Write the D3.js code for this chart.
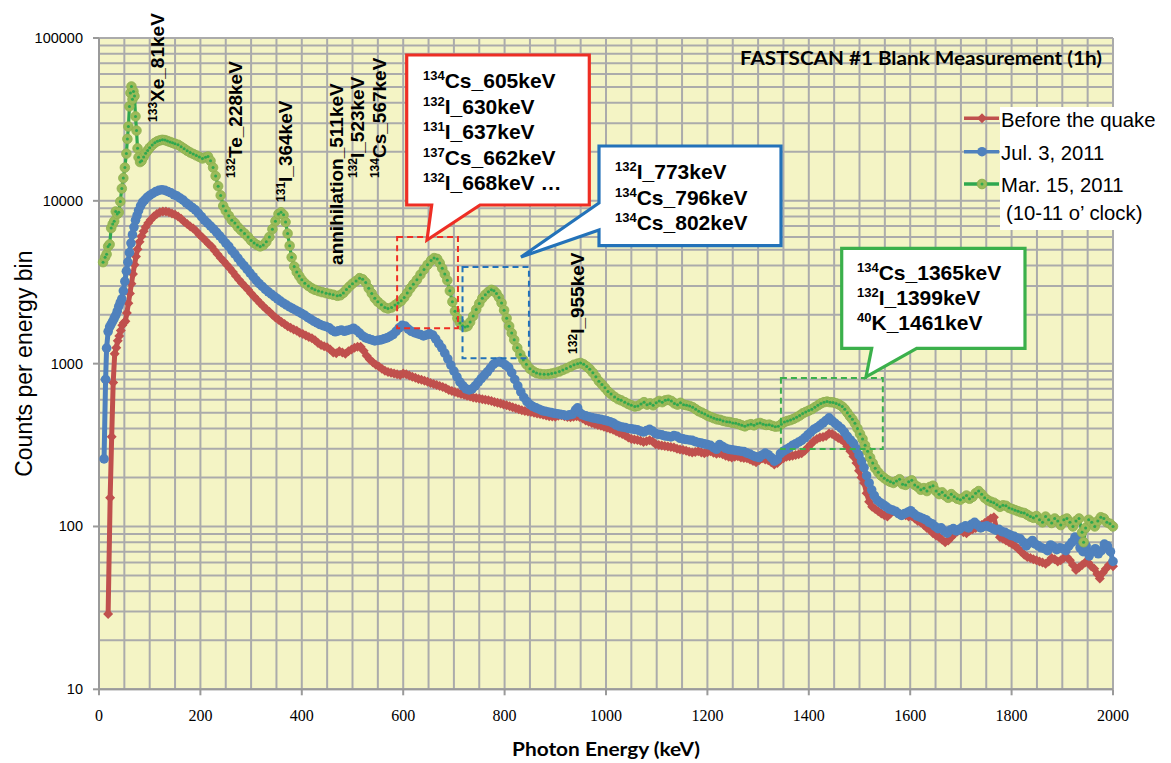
<!DOCTYPE html>
<html><head><meta charset="utf-8">
<script src="https://cdn.jsdelivr.net/npm/d3@7"></script>
<style>body{margin:0;background:#fff}svg{display:block}</style>
</head><body><svg id="c" width="1171" height="763"></svg>
<script>
// ---------------- DATA ----------------
const beforeQuake = [[18,29],[22,150],[25,356],[28,765],[31,1150],[34,1250],[37,1380],[40,1480],[43,1600],[46,1720],[49,1780],[52,1820],[55,2050],[58,2350],[61,2700],[64,3100],[67,3550],[70,4050],[73,4550],[76,5050],[80,5600],[84,6050],[88,6500],[92,6900],[97,7300],[102,7650],[108,8000],[114,8300],[120,8500],[126,8600],[132,8600],[138,8500],[144,8350],[150,8200],[156,8000],[162,7750],[168,7450],[174,7200],[180,6950],[186,6750],[192,6500],[198,6200],[204,5950],[210,5700],[216,5450],[222,5250],[228,4950],[234,4700],[240,4450],[246,4250],[252,4050],[258,3850],[264,3650],[270,3450],[276,3280],[282,3120],[288,2980],[294,2840],[300,2700],[306,2580],[312,2460],[318,2350],[324,2250],[330,2160],[336,2080],[342,2000],[348,1920],[354,1860],[360,1800],[366,1750],[372,1700],[378,1660],[384,1620],[390,1590],[396,1550],[402,1520],[408,1490],[414,1460],[420,1430],[426,1390],[432,1340],[438,1300],[444,1280],[450,1260],[456,1220],[462,1170],[468,1160],[474,1190],[480,1170],[486,1150],[492,1190],[498,1220],[504,1250],[510,1270],[516,1270],[522,1200],[528,1120],[534,1060],[540,1020],[546,985],[552,960],[558,930],[564,905],[570,890],[576,880],[582,870],[588,860],[594,853],[600,870],[606,860],[612,845],[618,830],[624,820],[630,805],[636,795],[642,785],[648,775],[654,760],[660,750],[666,740],[672,730],[678,720],[684,705],[690,690],[696,680],[702,670],[708,660],[714,650],[720,645],[726,635],[732,628],[738,620],[744,615],[750,610],[756,605],[762,600],[768,595],[774,590],[780,582],[786,575],[792,570],[798,562],[804,555],[810,548],[816,540],[822,532],[828,525],[834,518],[840,512],[846,508],[852,504],[858,500],[864,495],[870,490],[876,485],[882,480],[888,476],[894,473],[900,472],[906,478],[912,482],[918,476],[924,470],[930,468],[936,472],[942,476],[948,470],[954,460],[960,448],[966,440],[972,432],[978,426],[984,420],[990,415],[996,410],[1002,404],[1008,398],[1014,392],[1020,385],[1026,376],[1032,370],[1038,362],[1044,352],[1050,345],[1056,342],[1062,340],[1068,336],[1074,330],[1080,334],[1086,338],[1092,332],[1098,320],[1104,316],[1110,314],[1116,312],[1122,310],[1128,308],[1134,305],[1140,300],[1146,297],[1152,295],[1158,292],[1164,288],[1170,285],[1176,287],[1182,290],[1188,285],[1194,282],[1200,286],[1206,290],[1212,284],[1218,280],[1224,282],[1230,278],[1236,272],[1242,268],[1248,265],[1254,268],[1260,270],[1266,265],[1272,263],[1278,262],[1284,258],[1290,252],[1296,248],[1302,255],[1308,262],[1314,258],[1320,255],[1326,248],[1332,240],[1338,245],[1344,256],[1350,262],[1356,268],[1362,270],[1368,272],[1374,275],[1380,278],[1386,282],[1392,292],[1398,305],[1404,320],[1410,335],[1416,345],[1422,352],[1428,355],[1434,360],[1440,372],[1446,370],[1452,360],[1458,350],[1464,342],[1470,330],[1476,310],[1482,290],[1488,269],[1494,245],[1499,220],[1504,200],[1509,185],[1514,160],[1519,142],[1525,132],[1531,128],[1537,124],[1543,120],[1549,117],[1555,115],[1561,120],[1567,125],[1573,122],[1579,119],[1585,118],[1591,117],[1597,115],[1603,116],[1609,112],[1615,108],[1621,106],[1627,102],[1633,98],[1639,95],[1645,91],[1651,88],[1657,86],[1663,83],[1669,80],[1675,82],[1681,86],[1687,90],[1693,93],[1699,95],[1705,92],[1711,91],[1717,94],[1723,96],[1729,98],[1735,100],[1741,102],[1747,105],[1753,108],[1759,112],[1765,114],[1771,95],[1777,86],[1783,84],[1789,82],[1795,80],[1801,78],[1807,76],[1813,73],[1819,70],[1825,67],[1831,65],[1837,64],[1843,63],[1849,62],[1855,61],[1861,60],[1867,59],[1873,61],[1879,64],[1885,63],[1891,61],[1897,62],[1903,64],[1909,65],[1915,62],[1921,58],[1927,54],[1933,56],[1939,58],[1945,60],[1951,60],[1957,57],[1963,55],[1969,51],[1974,48],[1980,52],[1986,55],[1992,58],[2000,57]];

const jul3 = [[10,260],[13,800],[15,1245],[18,1575],[21,1680],[24,1750],[27,1820],[30,1900],[33,1980],[36,2100],[39,2250],[42,2380],[45,2500],[48,2800],[51,3200],[54,3700],[57,4200],[60,4800],[63,5500],[66,6200],[69,6900],[72,7600],[75,8100],[78,8700],[82,9300],[86,9800],[90,10100],[95,10500],[100,10800],[106,11100],[112,11400],[118,11600],[124,11700],[130,11600],[136,11400],[142,11200],[148,10900],[154,10700],[160,10400],[166,10100],[172,9700],[178,9400],[184,9100],[190,8800],[196,8400],[202,8000],[208,7600],[214,7300],[220,7000],[226,6700],[232,6400],[238,6100],[244,5800],[250,5500],[256,5250],[262,4950],[268,4700],[274,4450],[280,4200],[286,4000],[292,3800],[298,3600],[304,3420],[310,3250],[316,3100],[322,2980],[328,2860],[334,2760],[340,2670],[346,2580],[352,2500],[358,2420],[364,2350],[370,2290],[376,2230],[382,2180],[388,2130],[394,2080],[400,2030],[406,1980],[412,1920],[418,1870],[424,1820],[430,1780],[436,1740],[442,1710],[448,1690],[454,1660],[460,1600],[466,1570],[472,1590],[478,1610],[484,1580],[490,1600],[496,1620],[502,1650],[508,1600],[514,1540],[520,1480],[526,1440],[532,1420],[538,1400],[544,1380],[550,1390],[556,1400],[562,1420],[568,1440],[574,1470],[580,1510],[586,1580],[592,1660],[598,1720],[604,1700],[610,1630],[616,1580],[622,1550],[628,1530],[634,1510],[640,1480],[646,1500],[652,1530],[658,1500],[664,1420],[670,1330],[676,1250],[682,1160],[688,1070],[694,980],[700,900],[706,830],[712,770],[718,730],[724,700],[730,690],[736,700],[742,730],[748,770],[754,810],[760,850],[766,890],[772,940],[778,990],[784,1020],[790,1030],[796,1010],[802,980],[808,950],[814,880],[820,800],[826,730],[832,670],[838,620],[844,585],[850,560],[856,545],[862,535],[868,525],[874,515],[880,510],[886,505],[892,500],[898,495],[904,492],[910,488],[916,485],[922,480],[928,485],[934,490],[940,520],[944,535],[948,500],[954,485],[960,478],[966,472],[972,466],[978,462],[984,458],[990,455],[996,450],[1002,445],[1008,440],[1014,432],[1020,420],[1026,412],[1032,408],[1038,405],[1044,400],[1050,398],[1056,395],[1062,392],[1068,385],[1074,380],[1080,388],[1086,395],[1092,385],[1098,372],[1104,368],[1110,365],[1116,360],[1122,358],[1128,355],[1134,362],[1140,358],[1146,348],[1152,345],[1158,342],[1164,340],[1170,338],[1176,332],[1182,328],[1188,325],[1194,322],[1200,318],[1206,315],[1212,305],[1218,298],[1224,318],[1230,310],[1236,302],[1242,298],[1248,296],[1254,294],[1260,292],[1266,290],[1272,288],[1278,282],[1284,278],[1290,272],[1296,268],[1302,265],[1308,275],[1314,282],[1320,276],[1326,265],[1332,252],[1338,258],[1344,280],[1350,290],[1356,298],[1362,305],[1368,315],[1374,322],[1380,330],[1386,338],[1392,350],[1398,365],[1404,380],[1410,395],[1416,405],[1422,418],[1428,432],[1434,448],[1440,465],[1446,445],[1452,430],[1458,415],[1464,400],[1470,380],[1476,358],[1482,340],[1488,324],[1494,300],[1499,275],[1504,252],[1509,230],[1514,205],[1519,185],[1524,168],[1529,155],[1535,145],[1541,140],[1547,136],[1553,132],[1559,128],[1565,126],[1571,124],[1577,120],[1583,117],[1589,120],[1595,122],[1601,125],[1607,120],[1613,116],[1619,114],[1625,112],[1631,110],[1637,106],[1643,104],[1649,100],[1655,97],[1661,98],[1667,94],[1673,91],[1679,95],[1685,97],[1691,94],[1697,96],[1703,99],[1709,101],[1715,98],[1721,103],[1727,106],[1733,102],[1739,98],[1745,100],[1751,101],[1757,99],[1763,97],[1769,95],[1775,96],[1781,93],[1787,92],[1793,90],[1799,88],[1805,87],[1811,85],[1817,84],[1823,80],[1829,76],[1835,79],[1841,82],[1847,78],[1853,76],[1859,74],[1865,73],[1871,71],[1877,77],[1883,75],[1889,72],[1895,74],[1901,73],[1907,71],[1913,76],[1919,80],[1925,86],[1929,84],[1935,74],[1941,70],[1947,76],[1953,66],[1959,70],[1965,73],[1971,68],[1977,71],[1983,78],[1989,76],[1995,70],[2000,61]];

const mar15 = [[8,4200],[12,4500],[15,4700],[18,5250],[21,5400],[24,6800],[27,7200],[30,7500],[33,8600],[36,8300],[39,8500],[42,9900],[45,11900],[48,13800],[51,16000],[54,19500],[56,24000],[58,28600],[60,38000],[62,46000],[64,50400],[66,42000],[68,47000],[70,44000],[72,33000],[74,27000],[76,21000],[78,18500],[81,17300],[84,17600],[88,18600],[92,19600],[96,20400],[100,21200],[105,22000],[110,22700],[115,23200],[120,23500],[125,23700],[130,23600],[135,23300],[140,23000],[145,22700],[150,22400],[156,22100],[162,21500],[168,20900],[174,20300],[180,19800],[186,19400],[192,19000],[198,18600],[204,18200],[210,18500],[215,18700],[220,17600],[225,16000],[230,14200],[235,12300],[240,10800],[245,9300],[250,8700],[256,8100],[262,7600],[268,7300],[274,6900],[280,6600],[287,6300],[294,6000],[300,5700],[306,5500],[312,5350],[318,5250],[324,5350],[330,5600],[336,6000],[342,6700],[348,7500],[354,8300],[359,8500],[364,8200],[368,7400],[372,6300],[376,5300],[380,4500],[385,3950],[390,3650],[395,3450],[400,3270],[406,3120],[413,3000],[420,2900],[426,2840],[433,2790],[440,2750],[448,2710],[455,2680],[462,2650],[470,2610],[476,2630],[482,2720],[488,2850],[494,2980],[500,3100],[507,3220],[514,3350],[520,3300],[526,3150],[532,2900],[538,2700],[544,2520],[550,2400],[557,2300],[564,2210],[570,2180],[577,2210],[584,2290],[590,2360],[596,2430],[602,2550],[608,2720],[614,2900],[620,3070],[627,3270],[634,3520],[641,3780],[648,4050],[655,4300],[661,4450],[667,4400],[672,4150],[677,3850],[682,3550],[687,3250],[692,2800],[697,2400],[702,2100],[707,1900],[712,1780],[717,1710],[722,1680],[727,1700],[732,1800],[738,1960],[744,2150],[750,2340],[756,2520],[762,2650],[768,2760],[774,2840],[779,2800],[784,2700],[789,2550],[794,2360],[799,2130],[804,1900],[809,1700],[814,1540],[819,1400],[825,1250],[831,1140],[837,1055],[843,990],[850,930],[857,895],[863,875],[870,865],[878,860],[886,862],[893,870],[900,880],[908,895],[915,915],[922,935],[930,960],[937,985],[944,1000],[950,1010],[956,990],[962,960],[968,925],[974,880],[980,830],[986,780],[992,745],[998,710],[1004,675],[1010,650],[1017,625],[1024,605],[1030,595],[1037,580],[1044,565],[1050,555],[1057,545],[1063,550],[1069,565],[1075,580],[1081,560],[1087,570],[1093,555],[1099,575],[1105,590],[1111,580],[1117,595],[1123,600],[1129,590],[1135,570],[1141,560],[1147,575],[1153,560],[1159,555],[1165,550],[1171,540],[1177,525],[1183,510],[1189,500],[1195,490],[1201,478],[1207,470],[1213,462],[1219,455],[1225,452],[1231,445],[1238,440],[1244,438],[1250,432],[1256,430],[1262,425],[1268,418],[1274,412],[1280,420],[1286,425],[1292,418],[1298,428],[1304,432],[1310,425],[1316,420],[1322,422],[1328,415],[1334,410],[1340,412],[1346,425],[1352,438],[1358,445],[1364,450],[1370,458],[1376,468],[1382,480],[1388,495],[1394,505],[1400,515],[1406,525],[1412,540],[1418,555],[1424,570],[1430,580],[1436,585],[1442,580],[1448,578],[1454,570],[1460,560],[1466,545],[1471,525],[1476,500],[1481,475],[1486,455],[1491,430],[1496,400],[1501,370],[1506,345],[1511,315],[1516,290],[1521,265],[1526,245],[1531,228],[1537,215],[1543,205],[1549,198],[1555,192],[1561,188],[1567,185],[1573,190],[1579,195],[1585,182],[1591,180],[1597,188],[1603,192],[1609,180],[1615,175],[1621,168],[1627,172],[1633,165],[1639,175],[1645,178],[1651,165],[1657,158],[1663,162],[1669,155],[1675,150],[1681,158],[1687,152],[1693,148],[1699,146],[1705,150],[1711,155],[1717,148],[1723,152],[1729,160],[1735,165],[1741,158],[1747,150],[1753,145],[1759,142],[1765,140],[1771,136],[1777,132],[1783,135],[1789,134],[1795,130],[1801,128],[1807,126],[1813,124],[1819,122],[1825,121],[1831,118],[1837,115],[1843,113],[1849,116],[1855,110],[1861,106],[1867,115],[1873,110],[1879,105],[1885,112],[1891,108],[1897,102],[1903,110],[1909,112],[1915,106],[1921,100],[1927,108],[1933,112],[1939,92],[1942,80],[1946,98],[1952,110],[1958,106],[1964,100],[1970,108],[1976,114],[1982,112],[1988,106],[1994,104],[2000,100]];

const seriesNames = ["Before the quake", "Jul. 3, 2011", "Mar. 15, 2011"];
const legendExtra = "(10-11 o\u2019 clock)";
const xTickValues = [0, 200, 400, 600, 800, 1000, 1200, 1400, 1600, 1800, 2000];
const yTickValues = [10, 100, 1000, 10000, 100000];
const chartTitle = "FASTSCAN #1 Blank Measurement (1h)";
const xTitle = "Photon Energy (keV)";
const yTitle = "Counts per energy bin";

// peak labels: [superscript, text, energy anchor, count anchor]
const peakLabels = [
  ["133", "Xe_81keV", 128, 30500],
  ["132", "Te_228keV", 282, 13800],
  ["131", "I_364keV", 381, 9840],
  ["", "annihilation_511keV", 481, 4040],
  ["132", "I_523keV", 523, 13800],
  ["134", "Cs_567keV", 566, 13800],
  ["132", "I_955keV", 957, 1148]
];
const redCalloutLines = [["134","Cs_605keV"],["132","I_630keV"],["131","I_637keV"],["137","Cs_662keV"],["132","I_668keV \u2026"]];
const blueCalloutLines = [["132","I_773keV"],["134","Cs_796keV"],["134","Cs_802keV"]];
const greenCalloutLines = [["134","Cs_1365keV"],["132","I_1399keV"],["40","K_1461keV"]];
// highlighted regions [E0, E1, countLow, countHigh]
const regionRed = [588, 708, 1650, 6000];
const regionBlue = [717, 848, 1080, 3920];
const regionGreen = [1345, 1546, 299, 815];

// ---------------- LAYOUT ----------------
const L = 99, R = 1113, T = 38, B = 689.3;
const C_RED = "#c0504d", C_BLUE = "#4f81bd", C_GLINE = "#2fa84f", C_OLIVE = "#9bbb59";
const BOX_RED = "#ee2e24", BOX_BLUE = "#2372b9", BOX_GREEN = "#3bb04b";

const svg = d3.select("#c");
const x = d3.scaleLinear().domain([0, 2000]).range([L, R]);
const y = d3.scaleLog().domain([10, 100000]).range([B, T]);

svg.append("rect").attr("x", L).attr("y", T).attr("width", R - L).attr("height", B - T).attr("fill", "#f4f4c5");

// grid
const grid = svg.append("g").attr("stroke", "#ababab").attr("stroke-width", 2);
const xGrid = d3.range(0, 2001, 50);
grid.selectAll(".gx").data(xGrid).join("line").attr("x1", d => x(d)).attr("x2", d => x(d)).attr("y1", T).attr("y2", B);
const yGrid = [];
[10, 100, 1000, 10000].forEach(p => { for (let k = 1; k <= 9; k++) yGrid.push(p * k); });
yGrid.push(100000);
grid.selectAll(".gy").data(yGrid).join("line").attr("x1", L).attr("x2", R).attr("y1", d => y(d)).attr("y2", d => y(d));

// axes
const axisG = svg.append("g").attr("stroke", "#9a9a9a").attr("stroke-width", 2);
axisG.append("line").attr("x1", L).attr("x2", L).attr("y1", T).attr("y2", B);
axisG.append("line").attr("x1", L).attr("x2", R).attr("y1", B).attr("y2", B);
axisG.selectAll(".ty").data(yTickValues).join("line").attr("x1", L - 6).attr("x2", L).attr("y1", d => y(d)).attr("y2", d => y(d));
axisG.selectAll(".tx").data(xTickValues).join("line").attr("x1", d => x(d)).attr("x2", d => x(d)).attr("y1", B).attr("y2", B + 6);

svg.append("g").selectAll("text").data(yTickValues).join("text")
  .attr("x", 83).attr("y", d => y(d) + 5).attr("text-anchor", "end")
  .attr("font-family", "Liberation Sans, Arial, sans-serif").attr("font-size", 14.5).attr("fill", "#000")
  .text(d => d);
svg.append("g").selectAll("text").data(xTickValues).join("text")
  .attr("x", d => x(d)).attr("y", 721).attr("text-anchor", "middle")
  .attr("font-family", "Liberation Serif, DejaVu Serif, serif").attr("font-size", 16).attr("fill", "#000")
  .text(d => d);

// axis titles
svg.append("text").attr("transform", `translate(32,${(T + B) / 2}) rotate(-90)`).attr("text-anchor", "middle")
  .attr("font-family", "Liberation Sans, Arial, sans-serif").attr("font-size", 23).text(yTitle);
svg.append("text").attr("x", (L + R) / 2).attr("y", 756).attr("text-anchor", "middle")
  .attr("font-family", "Lato, sans-serif").attr("font-weight", "bold").attr("font-size", 19)
  .attr("textLength", 188).attr("lengthAdjust", "spacingAndGlyphs").text(xTitle);

// series
const line = d3.line().x(d => x(d[0])).y(d => y(d[1]));
const plot = svg.append("g");
function drawSeries(data, color, kind) {
  plot.append("path").datum(data).attr("d", line).attr("fill", "none")
    .attr("stroke", kind === "green" ? C_GLINE : color).attr("stroke-width", kind === "green" ? 3.2 : 5).attr("stroke-linejoin", "round");
  const g = plot.append("g");
  if (kind === "diamond") {
    g.selectAll("path").data(data).join("path")
      .attr("d", d3.symbol().type(d3.symbolSquare).size(50)())
      .attr("transform", d => `translate(${x(d[0])},${y(d[1])}) rotate(45)`).attr("fill", color);
  } else if (kind === "circle") {
    g.selectAll("circle").data(data).join("circle")
      .attr("cx", d => x(d[0])).attr("cy", d => y(d[1])).attr("r", 4.8).attr("fill", color);
  } else {
    g.selectAll("circle").data(data).join("circle")
      .attr("cx", d => x(d[0])).attr("cy", d => y(d[1])).attr("r", 4.8).attr("fill", C_OLIVE).attr("stroke", "#8fb04f").attr("stroke-width", 0.8);
    g.selectAll("circle.dot").data(data).join("circle").attr("class", "dot")
      .attr("cx", d => x(d[0])).attr("cy", d => y(d[1])).attr("r", 1.5).attr("fill", C_GLINE);
  }
}
drawSeries(beforeQuake, C_RED, "diamond");
drawSeries(jul3, C_BLUE, "circle");
drawSeries(mar15, C_OLIVE, "green");

// highlighted regions
function region(r, color) {
  svg.append("rect").attr("x", x(r[0])).attr("y", y(r[3])).attr("width", x(r[1]) - x(r[0])).attr("height", y(r[2]) - y(r[3]))
    .attr("fill", "none").attr("stroke", color).attr("stroke-width", 2).attr("stroke-dasharray", "6,4");
}
region(regionRed, BOX_RED);
region(regionBlue, BOX_BLUE);
region(regionGreen, BOX_GREEN);

// callouts
function callout(pts, color) {
  svg.append("path").attr("d", "M" + pts.map(p => p.join(",")).join("L") + "Z")
    .attr("fill", "#fff").attr("stroke", color).attr("stroke-width", 3.2).attr("stroke-linejoin", "miter");
}
function supText(parent, x0, y0, sup, main, big, small, rise) {
  const t = parent.append("text").attr("x", x0).attr("y", y0)
    .attr("font-family", "Liberation Sans, Arial, sans-serif").attr("font-weight", "bold").attr("fill", "#000");
  if (sup) {
    t.append("tspan").attr("font-size", small).attr("dy", -rise).text(sup);
    t.append("tspan").attr("font-size", big).attr("dy", rise).text(main);
  } else {
    t.append("tspan").attr("font-size", big).text(main);
  }
  return t;
}
callout([[406.7,55],[589.3,55],[589.3,205],[480,205],[427,240],[431.7,205],[406.7,205]], BOX_RED);
callout([[599,146],[781,146],[781,245.7],[599,245.7],[599,230],[521,257],[599,203]], BOX_BLUE);
callout([[841.7,248.3],[1025,248.3],[1025,348.3],[916.7,348.3],[866,377],[871.7,348.3],[841.7,348.3]], BOX_GREEN);
const cg = svg.append("g");
redCalloutLines.forEach((l, i) => supText(cg, 423, 88.3 + i * 25.5, l[0], l[1], 21, 13, 8));
blueCalloutLines.forEach((l, i) => supText(cg, 615, 179 + i * 25.5, l[0], l[1], 21, 13, 8));
greenCalloutLines.forEach((l, i) => supText(cg, 857, 280 + i * 25, l[0], l[1], 21, 13, 8));

// peak labels (rotated)
peakLabels.forEach(p => {
  const g = svg.append("g").attr("transform", `translate(${x(p[2])},${y(p[3])}) rotate(-90)`);
  supText(g, 0, 0, p[0], p[1], 19, 12, 7);
});

// legend
svg.append("rect").attr("x", 1000).attr("y", 107).attr("width", 171).attr("height", 123).attr("fill", "#fff");
const lg = svg.append("g");
const legY = [118.3, 151.7, 184];
const legCol = [C_RED, C_BLUE, C_GLINE];
legY.forEach((ly, i) => {
  lg.append("line").attr("x1", 964).attr("x2", 999).attr("y1", ly).attr("y2", ly).attr("stroke", legCol[i]).attr("stroke-width", 3.5);
  if (i === 0) lg.append("path").attr("d", d3.symbol().type(d3.symbolSquare).size(50)()).attr("transform", `translate(982,${ly}) rotate(45)`).attr("fill", C_RED);
  if (i === 1) lg.append("circle").attr("cx", 982).attr("cy", ly).attr("r", 4.8).attr("fill", C_BLUE);
  if (i === 2) {
    lg.append("circle").attr("cx", 982).attr("cy", ly).attr("r", 4.8).attr("fill", C_OLIVE).attr("stroke", "#8fb04f");
    lg.append("circle").attr("cx", 982).attr("cy", ly).attr("r", 1.5).attr("fill", C_GLINE);
  }
  lg.append("text").attr("x", 1001).attr("y", ly + 8.4).attr("font-family", "Liberation Sans, Arial, sans-serif")
    .attr("font-size", 20.3).text(seriesNames[i]);
});
lg.append("text").attr("x", 1006).attr("y", 220).attr("font-family", "Liberation Sans, Arial, sans-serif").attr("font-size", 20.3).text(legendExtra);

// title
svg.append("text").attr("x", 740).attr("y", 65).attr("font-family", "Lato, sans-serif").attr("font-weight", "bold")
  .attr("font-size", 19).attr("textLength", 362).attr("lengthAdjust", "spacingAndGlyphs").text(chartTitle);
</script></body></html>
